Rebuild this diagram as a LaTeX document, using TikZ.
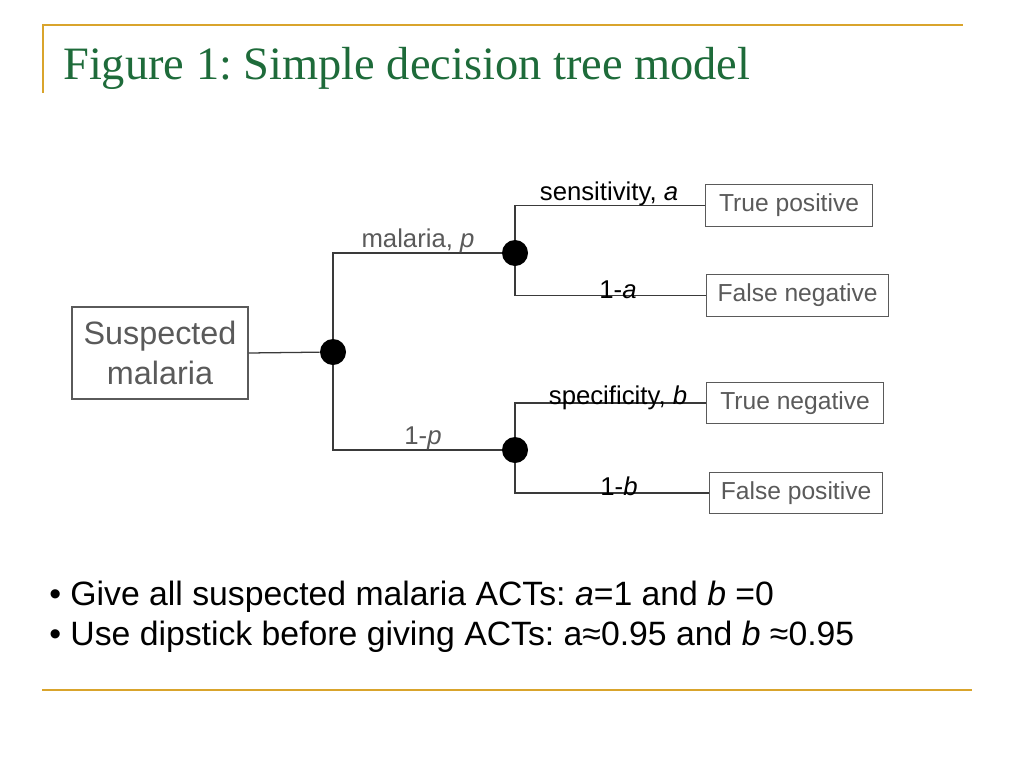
\documentclass[tikz,border=0pt]{standalone}
\usepackage{fontspec}
\setmainfont{Liberation Serif}
\setsansfont{Liberation Sans}
\usetikzlibrary{positioning}
\frenchspacing

\definecolor{verdetitulo}{HTML}{1E6B3A}
\definecolor{oroline}{HTML}{D9A42C}
\definecolor{grisbox}{HTML}{5A5A5A}
\definecolor{grisrama}{HTML}{3A3A3A}

\begin{document}
\begin{tikzpicture}[
	x=0.025cm, y=-0.025cm,
	milinea/.style ={draw=oroline, line width=1.4pt},
	mibox/.style ={draw=grisbox, text=grisbox, line width=0.8pt, anchor=west,
		minimum height=1.03cm, inner sep=0pt, font=\sffamily\fontsize{17.5}{20}\selectfont},
	minodo/.style ={circle, fill=black, minimum size=0.65cm, inner sep=0pt},
	mirama/.style ={draw=grisrama, line width=0.9pt},
	mietiq/.style ={anchor=base, inner sep=0pt, font=\sffamily\fontsize{18.3}{20}\selectfont},
	mibala/.style ={anchor=base west, inner sep=0pt, font=\sffamily\fontsize{24}{28}\selectfont}]

	\useasboundingbox (0,0) rectangle (1024,768);

	% title and rules
	\coordinate (TL) at (43,25);
	\coordinate (TR) at (963,25);
	\coordinate (TD) at (43,93);
	\coordinate (BL) at (42,690);
	\coordinate (BR) at (972,690);
	\draw[milinea] (TD) -- (TL) -- (TR);
	\draw[milinea] (BL) -- (BR);
	\node[anchor=base west, inner sep=0pt, text=verdetitulo,
		font=\rmfamily\fontsize{33}{36}\selectfont] (titulo) at (63,80)
		{Figure 1: Simple decision tree model};

	% tree
	\node[draw=grisbox, text=grisbox, line width=0.8pt, minimum width=4.4cm,
		minimum height=2.3cm, inner sep=0pt, align=center,
		font=\sffamily\fontsize{23}{28.5}\selectfont] (sospecha) at (160,353)
		{Suspected\\malaria};

	\node[minodo] (raiz) at (333,352) {};
	\node[minodo] (azar1) at (515,253) {};
	\node[minodo] (azar2) at (515,450) {};

	\node[mibox, minimum width=4.175cm] (tp) at (705,205.5) {True positive};
	\node[mibox, minimum width=4.55cm] (fn) at (706,295.5) {False negative};
	\node[mibox, minimum width=4.425cm] (tn) at (706,403) {True negative};
	\node[mibox, minimum width=4.325cm] (fp) at (709,493) {False positive};

	\draw[mirama] (sospecha.east) -- (raiz);
	\draw[mirama] (raiz) |- (azar1);
	\draw[mirama] (raiz) |- (azar2);
	\draw[mirama] (azar1) |- (tp.west);
	\draw[mirama] (azar1) |- (fn.west);
	\draw[mirama] (azar2) |- (tn.west);
	\draw[mirama] (azar2) |- (fp.west);

	\node[mietiq, text=grisbox] (lmal) at (418,247) {malaria, \textit{p}};
	\node[mietiq, text=grisbox] (lnomal) at (423,444) {1-\textit{p}};
	\node[mietiq] (lsens) at (609,200) {sensitivity, \textit{a}};
	\node[mietiq] (lnosens) at (618,298) {1-\textit{a}};
	\node[mietiq] (lspec) at (618,404) {specificity, \textit{b}};
	\node[mietiq] (lnospec) at (619,495) {1-\textit{b}};

	% bullets
	\node[mibala] (b1) at (49,605)
		{\textbullet\ Give all suspected malaria ACTs: \textit{a}=1 and \textit{b} =0};
	\node[mibala] (b2) at (49,645)
		{\textbullet\ Use dipstick before giving ACTs: a≈0.95 and \textit{b} ≈0.95};

\end{tikzpicture}
\end{document}
